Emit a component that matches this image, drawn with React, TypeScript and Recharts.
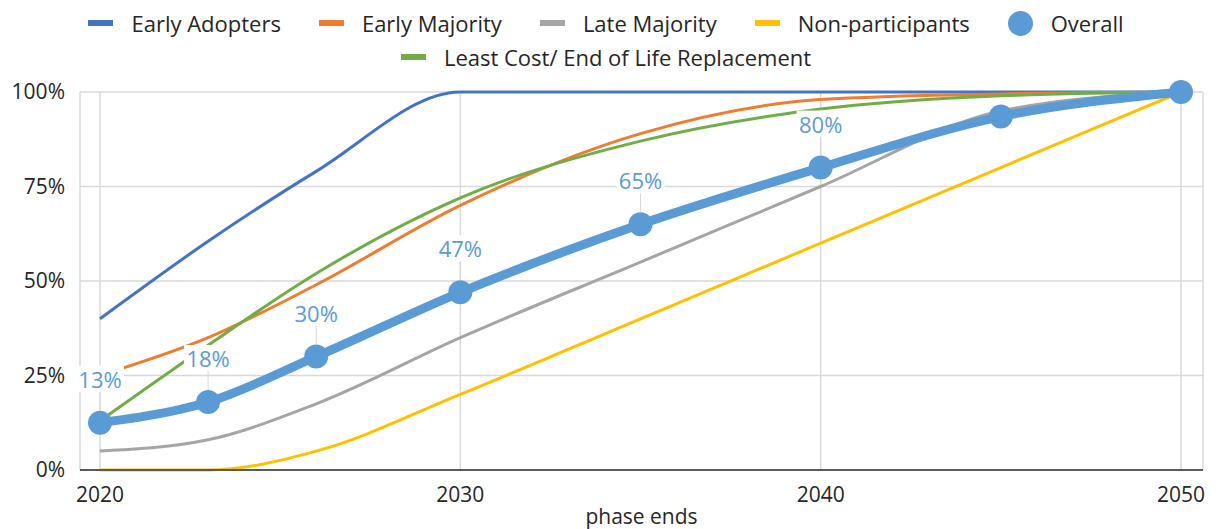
import { CartesianGrid, Label, LabelList, Line, LineChart, XAxis, YAxis } from 'recharts'

const years = [2020, 2023, 2026, 2030, 2035, 2040, 2045, 2050]
const earlyAdopters = [40, 60.5, 79, 100, 100, 100, 100, 100]
const earlyMajority = [25, 35, 49, 70, 89, 98, 99.5, 100]
const lateMajority = [5, 8, 17.5, 35, 55, 75, 95, 100]
const nonParticipants = [0, 0, 5, 20, 40, 60, 80, 100]
const leastCost = [13, 33, 52, 72, 87, 95.5, 99, 100]
const overall = [12.5, 18, 30, 47, 65, 80, 93.5, 100]
const overallLabels = ['13%', '18%', '30%', '47%', '65%', '80%', '', '']

const xTicks = [2020, 2030, 2040, 2050]
const yTicks = [0, 25, 50, 75, 100]

const FONT = '"Open Sans", sans-serif'
const TEXT = '#262626'

const series = [
  { key: 'ea', name: 'Early Adopters', color: '#4472C4' },
  { key: 'em', name: 'Early Majority', color: '#ED7D31' },
  { key: 'lm', name: 'Late Majority', color: '#A5A5A5' },
  { key: 'np', name: 'Non-participants', color: '#FFC000' },
  { key: 'ov', name: 'Overall', color: '#5B9BD5' },
  { key: 'lc', name: 'Least Cost/ End of Life Replacement', color: '#70AD47' },
]

const data = years.map((year, i) => ({
  year,
  ea: earlyAdopters[i],
  em: earlyMajority[i],
  lm: lateMajority[i],
  np: nonParticipants[i],
  lc: leastCost[i],
  ov: overall[i],
  label: overallLabels[i],
}))

function OverallLabel(props: any) {
  const { x, y, value } = props
  if (!value) return null
  const ty = y - 44
  return (
    <g>
      <line x1={x} x2={x} y1={ty + 13} y2={y - 12} stroke="#d9d9d9" strokeWidth={1} />
      <rect x={x - 24} y={ty - 13} width={48} height={26} fill="#fff" />
      <text
        x={x}
        y={ty}
        textAnchor="middle"
        dominantBaseline="central"
        fontSize={22}
        fontFamily={FONT}
        fill="#5B9BD5"
      >
        {value}
      </text>
    </g>
  )
}

function LegendItem({ s }: { s: (typeof series)[number] }) {
  return (
    <div style={{ display: 'flex', alignItems: 'center', gap: 18 }}>
      {s.key === 'ov' ? (
        <span style={{ width: 25, height: 25, borderRadius: 13, background: s.color, display: 'inline-block' }} />
      ) : (
        <span style={{ width: 25, height: 6, background: s.color, display: 'inline-block' }} />
      )}
      <span>{s.name}</span>
    </div>
  )
}

export default function App() {
  const rowStyle: React.CSSProperties = {
    display: 'flex',
    justifyContent: 'center',
    gap: 38,
    height: 34,
    alignItems: 'center',
  }
  return (
    <div style={{ position: 'absolute', left: 0, top: 0, width: 1222, height: 529, background: '#fff' }}>
      <div
        style={{
          position: 'absolute',
          left: 0,
          top: 6,
          width: 1212,
          fontFamily: FONT,
          fontSize: 22,
          color: TEXT,
        }}
      >
        <div style={rowStyle}>
          {series.slice(0, 5).map((s) => (
            <LegendItem key={s.key} s={s} />
          ))}
        </div>
        <div style={rowStyle}>
          <LegendItem s={series[5]} />
        </div>
      </div>
      <LineChart width={1222} height={529} data={data} margin={{ top: 92, right: 19, bottom: 0, left: 0 }}>
        <CartesianGrid stroke="#d9d9d9" strokeWidth={1.5} />
        <XAxis
          dataKey="year"
          type="number"
          domain={[2020, 2050]}
          ticks={xTicks}
          padding={{ left: 20, right: 22 }}
          height={59}
          tickLine={false}
          tickMargin={11}
          axisLine={{ stroke: '#595959', strokeWidth: 2 }}
          tick={{ fill: TEXT, fontSize: 21, fontFamily: FONT }}
        >
          <Label
            value="phase ends"
            position="insideBottom"
            offset={5}
            style={{ fill: TEXT, fontSize: 21, fontFamily: FONT }}
          />
        </XAxis>
        <YAxis
          type="number"
          domain={[0, 100]}
          ticks={yTicks}
          width={80}
          axisLine={false}
          tickLine={false}
          tickMargin={9}
          tickFormatter={(v) => `${v}%`}
          tick={{ fill: TEXT, fontSize: 21, fontFamily: FONT }}
        />
        {series
          .filter((s) => s.key !== 'ov')
          .map((s) => (
            <Line
              key={s.key}
              dataKey={s.key}
              name={s.name}
              type="monotone"
              stroke={s.color}
              strokeWidth={3}
              dot={false}
              activeDot={false}
              isAnimationActive={false}
            />
          ))}
        <Line
          dataKey="ov"
          name="Overall"
          type="monotone"
          stroke="#5B9BD5"
          strokeWidth={9}
          dot={{ r: 12, fill: '#5B9BD5', stroke: 'none' }}
          activeDot={false}
          isAnimationActive={false}
        >
          <LabelList dataKey="label" content={OverallLabel} />
        </Line>
      </LineChart>
    </div>
  )
}
